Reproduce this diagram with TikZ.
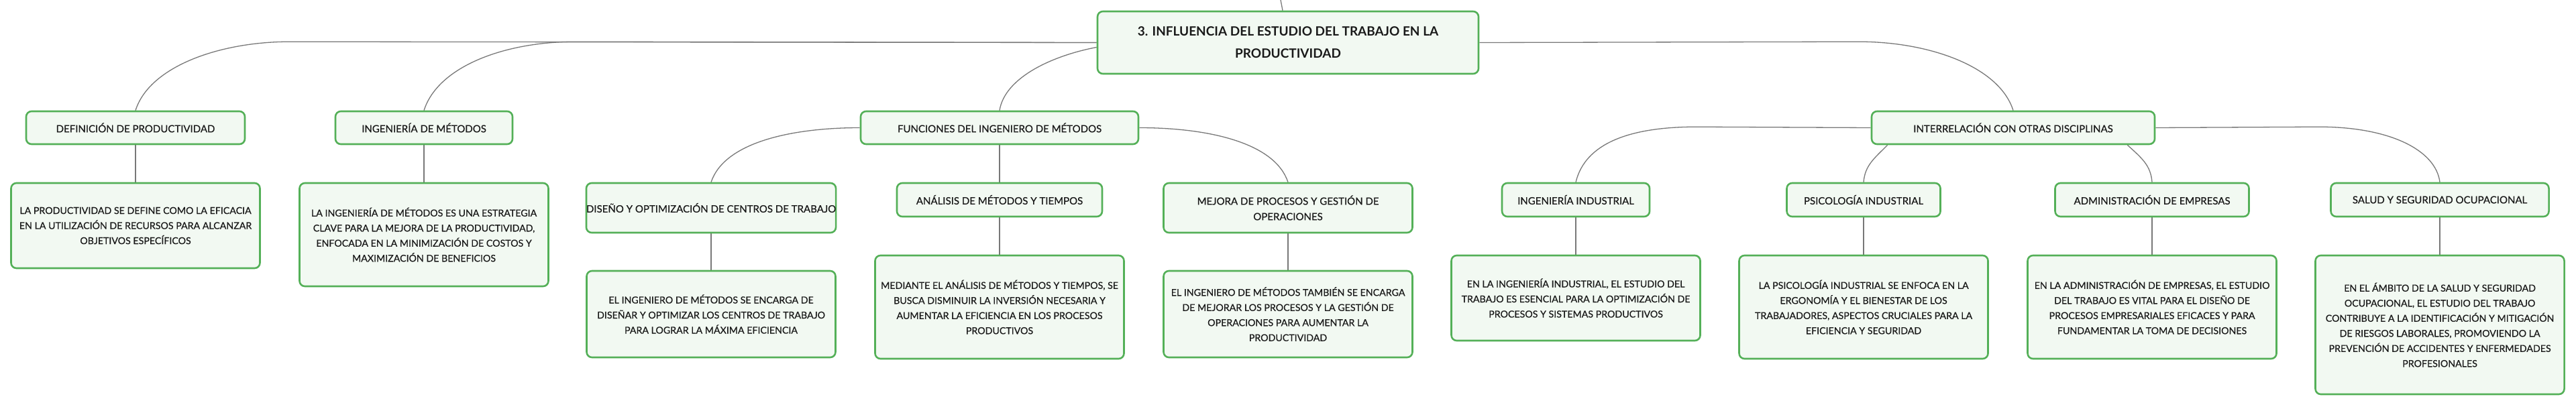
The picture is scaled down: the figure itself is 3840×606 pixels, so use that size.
\documentclass[tikz,border=0pt]{standalone}
\usepackage{fontspec}
\setmainfont{Lato}
\newfontfamily\medfont{Lato}[FakeBold=0.45]
\usetikzlibrary{calc,backgrounds}
\definecolor{boxgreen}{RGB}{84,176,88}
\definecolor{boxfill}{RGB}{242,249,242}
\definecolor{linkgray}{RGB}{120,120,120}
\definecolor{txt}{RGB}{25,25,25}
\tikzset{
  box/.style={draw=boxgreen, fill=boxfill, line width=2.6pt, rounded corners=8pt,
              align=center, text=txt, inner sep=0pt},
  rootbox/.style={box, font=\fontsize{19}{33}\selectfont\bfseries},
  lbl/.style={box, font=\medfont\fontsize{15}{23}\selectfont},
  det/.style={box, font=\medfont\fontsize{14.2}{22.5}\selectfont, minimum width=371pt},
  link/.style={draw=linkgray, line width=1.3pt},
}
\begin{document}
\begin{tikzpicture}[x=1pt,y=-1pt]
\useasboundingbox (0,0) rectangle (3840,606);
% root
\node[rootbox, minimum width=568pt, minimum height=93pt] (root) at (1920,63.5)
  {3. INFLUENCIA DEL ESTUDIO DEL TRABAJO EN LA\\PRODUCTIVIDAD};
\coordinate (up) at (1909,0);
% level 1
\node[lbl, minimum width=326pt, minimum height=49pt] (def) at (202,190.5) {DEFINICIÓN DE PRODUCTIVIDAD};
\node[lbl, minimum width=264pt, minimum height=49pt] (ing) at (632,190.5) {INGENIERÍA DE MÉTODOS};
\node[lbl, minimum width=414pt, minimum height=49pt] (fun) at (1490,190.5) {FUNCIONES DEL INGENIERO DE MÉTODOS};
\node[lbl, minimum width=422pt, minimum height=49pt] (int) at (3001,190.5) {INTERRELACIÓN CON OTRAS DISCIPLINAS};
% level 2
\node[lbl, minimum width=371pt, minimum height=74pt] (dis) at (1060,310) {DISEÑO Y OPTIMIZACIÓN DE CENTROS DE TRABAJO};
\node[lbl, minimum width=306pt, minimum height=50pt] (ana) at (1490,298) {ANÁLISIS DE MÉTODOS Y TIEMPOS};
\node[lbl, minimum width=371pt, minimum height=74pt] (mej) at (1920,310) {MEJORA DE PROCESOS Y GESTIÓN DE\\OPERACIONES};
\node[lbl, minimum width=220pt, minimum height=50pt] (ii) at (2349,298) {INGENIERÍA INDUSTRIAL};
\node[lbl, minimum width=229pt, minimum height=50pt] (psi) at (2778,298) {PSICOLOGÍA INDUSTRIAL};
\node[lbl, minimum width=289pt, minimum height=50pt] (adm) at (3208,298) {ADMINISTRACIÓN DE EMPRESAS};
\node[lbl, minimum width=325pt, minimum height=50pt] (sal) at (3637,298) {SALUD Y SEGURIDAD OCUPACIONAL};
% details
\node[det, minimum height=127pt] (defd) at (202,336.5)
  {LA PRODUCTIVIDAD SE DEFINE COMO LA EFICACIA\\EN LA UTILIZACIÓN DE RECURSOS PARA ALCANZAR\\OBJETIVOS ESPECÍFICOS};
\node[det, minimum height=154pt] (ingd) at (632,350)
  {LA INGENIERÍA DE MÉTODOS ES UNA ESTRATEGIA\\CLAVE PARA LA MEJORA DE LA PRODUCTIVIDAD,\\ENFOCADA EN LA MINIMIZACIÓN DE COSTOS Y\\MAXIMIZACIÓN DE BENEFICIOS};
\node[det, minimum height=129pt] (disd) at (1060,468.5)
  {EL INGENIERO DE MÉTODOS SE ENCARGA DE\\DISEÑAR Y OPTIMIZAR LOS CENTROS DE TRABAJO\\PARA LOGRAR LA MÁXIMA EFICIENCIA};
\node[det, minimum height=154pt] (anad) at (1490,458)
  {MEDIANTE EL ANÁLISIS DE MÉTODOS Y TIEMPOS, SE\\BUSCA DISMINUIR LA INVERSIÓN NECESARIA Y\\AUMENTAR LA EFICIENCIA EN LOS PROCESOS\\PRODUCTIVOS};
\node[det, minimum height=129pt] (mejd) at (1920,468.5)
  {EL INGENIERO DE MÉTODOS TAMBIÉN SE ENCARGA\\DE MEJORAR LOS PROCESOS Y LA GESTIÓN DE\\OPERACIONES PARA AUMENTAR LA\\PRODUCTIVIDAD};
\node[det, minimum height=127pt] (iid) at (2349,444.5)
  {EN LA INGENIERÍA INDUSTRIAL, EL ESTUDIO DEL\\TRABAJO ES ESENCIAL PARA LA OPTIMIZACIÓN DE\\PROCESOS Y SISTEMAS PRODUCTIVOS};
\node[det, minimum height=154pt] (psid) at (2778,458)
  {LA PSICOLOGÍA INDUSTRIAL SE ENFOCA EN LA\\ERGONOMÍA Y EL BIENESTAR DE LOS\\TRABAJADORES, ASPECTOS CRUCIALES PARA LA\\EFICIENCIA Y SEGURIDAD};
\node[det, minimum height=154pt] (admd) at (3208,458)
  {EN LA ADMINISTRACIÓN DE EMPRESAS, EL ESTUDIO\\DEL TRABAJO ES VITAL PARA EL DISEÑO DE\\PROCESOS EMPRESARIALES EFICACES Y PARA\\FUNDAMENTAR LA TOMA DE DECISIONES};
\node[det, minimum height=207pt] (sald) at (3637,484.5)
  {EN EL ÁMBITO DE LA SALUD Y SEGURIDAD\\OCUPACIONAL, EL ESTUDIO DEL TRABAJO\\CONTRIBUYE A LA IDENTIFICACIÓN Y MITIGACIÓN\\DE RIESGOS LABORALES, PROMOVIENDO LA\\PREVENCIÓN DE ACCIDENTES Y ENFERMEDADES\\PROFESIONALES};
% connectors
\begin{scope}[on background layer]
\draw[link] ([xshift=-8pt]root.north) -- (up);
\draw[link] (root.west) -- ($(def.north)+(230,-102.5)$) .. controls +(-104,0) and +(21,-66) .. (def.north);
\draw[link] (root.west) -- ($(ing.north)+(225,-102.5)$) .. controls +(-104,0) and +(21,-66) .. (ing.north);
\draw[link] ([yshift=-7pt]root.west) .. controls +(-64,12) and +(8,-50) .. (fun.north);
\draw[link] (root.east) -- ($(int.north)+(-230,-102.5)$) .. controls +(104,0) and +(-21,-66) .. (int.north);
\draw[link] (fun.west) .. controls +(-100,0) and +(20,-60) .. (dis.north);
\draw[link] (fun.south) -- (ana.north);
\draw[link] (fun.east) .. controls +(100,0) and +(-20,-60) .. (mej.north);
\draw[link] (int.west) -- ($(ii.north)+(180,-82.5)$) .. controls +(-100,0) and +(14,-58) .. (ii.north);
\draw[link] ($(int.south west)+(25,0)$) .. controls +(-20,20) and +(2,-25) .. (psi.north);
\draw[link] ($(int.south east)+(-42,0)$) .. controls +(22,20) and +(-2,-25) .. (adm.north);
\draw[link] (int.east) -- ($(sal.north)+(-180,-82.5)$) .. controls +(105,0) and +(-6,-48) .. (sal.north);
\draw[link] (def.south) -- (defd.north);
\draw[link] (ing.south) -- (ingd.north);
\draw[link] (dis.south) -- (disd.north);
\draw[link] (ana.south) -- (anad.north);
\draw[link] (mej.south) -- (mejd.north);
\draw[link] (ii.south) -- (iid.north);
\draw[link] (psi.south) -- (psid.north);
\draw[link] (adm.south) -- (admd.north);
\draw[link] (sal.south) -- (sald.north);
\end{scope}
\end{tikzpicture}
\end{document}
